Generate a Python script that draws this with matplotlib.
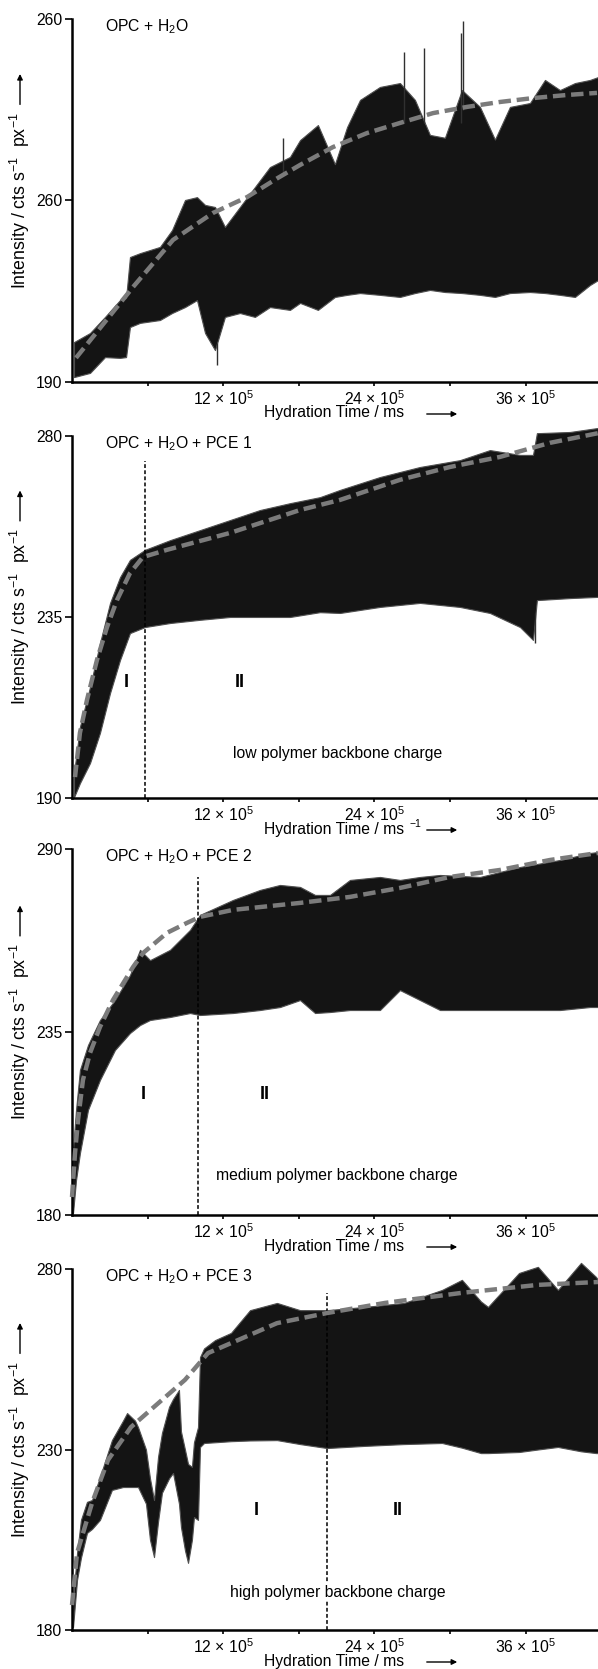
import numpy as np
import matplotlib
matplotlib.use('Agg')
import matplotlib.pyplot as plt
from matplotlib.patches import FancyArrowPatch

plt.rcParams['font.family'] = ['Liberation Sans', 'DejaVu Sans']
plt.rcParams['mathtext.fontset'] = 'custom'
plt.rcParams['mathtext.rm'] = 'Liberation Sans'
plt.rcParams['mathtext.it'] = 'Liberation Sans:italic'
plt.rcParams['mathtext.bf'] = 'Liberation Sans:bold'
plt.rcParams['font.size'] = 11.3

# hydration time in units of 1e5 ms, intensity in cts s^-1 px^-1
# panel 1: OPC + H2O  (upper / lower envelope of the noisy signal)
t1 = [0.16, 1.43, 2.62, 3.81, 4.29, 4.60, 5.40, 6.98, 7.94, 8.97, 9.92, 10.56, 11.35, 12.14,
      13.33, 14.52, 15.71, 17.30, 18.10, 19.52, 20.87, 21.83, 22.86, 24.44, 26.03, 27.22,
      28.41, 29.60, 30.95, 32.38, 33.57, 34.76, 36.35, 37.54, 38.73, 39.92, 41.11, 41.75]
up1 = [205.4, 208.9, 215.1, 221.6, 222.4, 238.2, 239.7, 242.1, 248.6, 260.2, 261.3, 258.3, 257.5, 249.8,
       257.5, 265.2, 272.9, 276.8, 283.3, 289.1, 274.0, 288.3, 298.8, 303.8, 305.3, 298.8,
       285.3, 284.2, 302.6, 296.1, 283.5, 296.1, 297.6, 306.5, 302.6, 305.3, 306.5, 307.6]
lo1 = [191.9, 193.5, 199.6, 199.3, 199.6, 211.2, 212.8, 213.9, 216.6, 218.9, 221.6, 208.9, 202.3, 215.1,
       216.6, 215.1, 218.9, 217.8, 220.5, 217.8, 222.8, 223.6, 224.3, 223.6, 222.8, 224.3,
       225.5, 224.7, 224.3, 223.6, 222.8, 224.3, 224.7, 224.3, 223.6, 222.8, 227.4, 229.3]
fit_t1 = [0.32, 4.84, 8.02, 11.19, 13.89, 16.27, 18.10, 20.71, 23.41, 26.03, 28.65, 31.35, 33.97, 36.59, 39.29, 41.67]
fit1 = [199.3, 226.6, 244.8, 255.2, 261.3, 268.5, 273.7, 280.6, 286.0, 289.9, 293.7, 296.1, 298.0, 299.5, 300.7, 301.5]
spk_t1 = [16.75, 26.35, 27.94, 30.87, 31.03, 11.51]
spk_lo1 = [270, 290, 290, 290, 295, 196.6]
spk_hi1 = [284.1, 317.3, 318.8, 324.6, 329.2, 205]

# panel 2: OPC + H2O + PCE 1
t2 = [0.16, 0.63, 1.43, 2.22, 3.02, 3.81, 4.60, 5.79, 7.78, 10.16, 12.54, 14.92, 17.30, 19.68,
      21.27, 24.44, 27.62, 30.79, 33.17, 35.56, 36.59, 36.90, 39.52, 41.75]
up2 = [196.2, 207.7, 217.6, 228.5, 238.5, 244.9, 249.2, 251.7, 254.1, 256.6, 259.1, 261.6, 263.3, 264.8,
       266.6, 269.8, 272.3, 274.0, 276.5, 275.3, 275.3, 280.7, 281.0, 282.0]
lo2 = [190.2, 193.7, 198.7, 206.2, 216.1, 224.3, 231.0, 232.5, 233.5, 234.3, 235.0, 235.0, 235.0, 236.2,
       236.0, 237.5, 238.5, 237.5, 236.0, 232.5, 229.3, 239.2, 239.7, 240.0]
fit_t2 = [0.24, 0.63, 1.19, 1.98, 2.78, 3.57, 4.60, 5.63, 7.54, 12.54, 18.10, 21.27, 26.03, 30.0, 33.97, 37.94, 41.75]
fit2 = [195.2, 206.2, 214.4, 224.3, 232.5, 239.2, 245.9, 249.9, 251.7, 255.9, 261.6, 264.1, 269.1, 272.3, 274.8, 278.3, 280.7]
spk_t2 = [36.75]
spk_lo2 = [236]
spk_hi2 = [228.5]
line_t2 = 5.79

# panel 3: OPC + H2O + PCE 2
t3 = [0.08, 0.32, 0.63, 1.27, 2.22, 3.41, 4.60, 5.40, 6.19, 7.78, 9.37, 10.16, 12.78, 14.92,
      16.51, 18.10, 19.29, 20.48, 22.06, 24.44, 26.03, 27.62, 29.21, 32.38, 35.56, 38.73, 41.11, 41.75]
up3 = [199.5, 211.6, 223.6, 231.1, 238.6, 244.6, 252.1, 259.7, 256.6, 259.7, 265.7, 270.2, 274.7, 277.7,
       279.2, 278.6, 276.2, 276.2, 280.7, 281.6, 280.7, 281.6, 282.2, 281.6, 284.6, 286.7, 288.8, 289.1]
lo3 = [180.6, 190.5, 198.6, 211.6, 220.6, 229.6, 234.7, 237.1, 238.6, 239.5, 240.7, 240.1, 240.7, 241.6,
       242.5, 244.6, 240.7, 241.0, 241.6, 241.6, 247.6, 244.6, 241.6, 241.6, 241.6, 241.6, 242.5, 242.5]
fit_t3 = [0.0, 0.24, 0.48, 0.87, 1.43, 2.22, 3.25, 4.84, 5.63, 7.54, 9.13, 10.16, 12.78, 18.10,
          22.06, 26.03, 30.0, 33.97, 37.94, 41.75]
fit3 = [185.4, 198.6, 208.6, 220.6, 228.7, 236.5, 244.6, 254.5, 258.7, 264.8, 267.8, 269.6, 271.7, 273.8,
        275.6, 278.3, 281.6, 283.7, 286.7, 288.8]
line_t3 = 10.0

# panel 4: OPC + H2O + PCE 3
t4 = [0.08, 0.40, 0.71, 1.19, 1.59, 2.22, 3.17, 4.05, 4.37, 5.0, 5.24, 5.87, 6.19, 6.51, 6.83,
      7.14, 7.70, 8.02, 8.49, 8.65, 8.97, 9.21, 9.52, 9.68, 10.0, 10.16, 10.48, 11.35, 12.62,
      14.13, 16.27, 18.10, 20.24, 23.25, 26.35, 29.37, 30.95, 32.46, 33.02, 35.48, 36.98,
      38.57, 40.40, 41.59, 41.75]
up4 = [188.3, 201.3, 210.5, 215.5, 216.0, 222.4, 232.6, 238.0, 240.1, 238.0, 236.2, 230.0, 222.0, 216.0, 228.0,
       234.6, 241.8, 244.0, 246.5, 235.0, 229.9, 226.0, 225.2, 232.0, 236.2, 255.6, 258.0, 260.3, 262.3,
       268.6, 270.6, 268.6, 268.6, 269.5, 270.6, 274.2, 277.0, 271.0, 269.5, 278.9, 280.6,
       274.2, 281.7, 277.8, 277.0]
lo4 = [180.8, 193.9, 200.0, 206.9, 208.0, 210.5, 218.8, 219.6, 219.6, 219.6, 219.6, 215.0, 205.0, 200.2, 210.0,
       218.0, 222.0, 223.5, 215.0, 208.5, 202.0, 198.6, 205.0, 211.3, 210.5, 230.7, 231.8, 232.0, 232.3,
       232.5, 232.6, 231.5, 230.4, 231.0, 231.5, 231.8, 230.5, 229.0, 229.0, 229.3, 230.0,
       230.7, 229.5, 229.0, 229.0]
fit_t4 = [0.0, 0.40, 1.59, 2.86, 4.68, 6.51, 8.97, 10.79, 13.17, 16.27, 20.24, 24.84, 30.95, 36.98, 41.75]
fit4 = [186.9, 201.3, 215.2, 227.1, 236.2, 241.8, 249.3, 256.7, 260.3, 265.0, 267.8, 270.6, 273.4, 275.6, 276.4]
line_t4 = 20.24

titles = ['OPC + H$_2$O', 'OPC + H$_2$O + PCE 1', 'OPC + H$_2$O + PCE 2', 'OPC + H$_2$O + PCE 3']
yticks = [[190, 260, 330], [190, 235, 280], [180, 235, 290], [180, 230, 280]]
yticklabels = [['190', '260', '260'], ['190', '235', '280'], ['180', '235', '290'], ['180', '230', '280']]
xticks = [6, 12, 18, 24, 30, 36]
xticklabels = ['', '12 × 10$^5$', '', '24 × 10$^5$', '', '36 × 10$^5$']
xlabel = 'Hydration Time / ms'
xlabel_sup = [None, '\u22121', None, None]
notes = [None, 'low polymer backbone charge', 'medium polymer backbone charge', 'high polymer backbone charge']

W, H = 598, 1669
fig = plt.figure(figsize=(W / 100, H / 100), dpi=100)

# pixel layout of each panel: (top, bottom)
boxes = [(19, 382), (436, 798), (849, 1215), (1269, 1630)]
left, right = 72, 598

bands = [(t1, lo1, up1), (t2, lo2, up2), (t3, lo3, up3), (t4, lo4, up4)]
fits = [(fit_t1, fit1), (fit_t2, fit2), (fit_t3, fit3), (fit_t4, fit4)]
spikes = [(spk_t1, spk_lo1, spk_hi1), (spk_t2, spk_lo2, spk_hi2), None, None]
vlines = [None, (line_t2, 273.8), (line_t3, 281.6), (line_t4, 273.4)]
roman = [None,
         ((4.29, 218.8), (13.33, 218.8), (21.1, 201.0)),
         ((5.63, 216.1), (15.32, 216.1), (21.0, 192.0)),
         ((14.6, 213.2), (25.87, 213.2), (21.1, 190.5))]

gray = '#7b7b7b'
ylab_texts = []
for i in range(4):
    top, bot = boxes[i]
    ax = fig.add_axes([left / W, 1 - bot / H, (right - left) / W, (bot - top) / H])
    ax.set_xlim(0, 41.75)
    ax.set_ylim(yticks[i][0], yticks[i][-1])

    tt, lo, up = bands[i]
    ax.fill_between(tt, lo, up, color='#141414', edgecolor='#505050', lw=0.8, clip_on=False, zorder=2)
    if spikes[i] is not None:
        ax.vlines(spikes[i][0], spikes[i][1], spikes[i][2], color='#303030', lw=1.0, clip_on=False, zorder=2)
    ft, fv = fits[i]
    ax.plot(ft, fv, color=gray, lw=3.2, dashes=(2.8, 1.3), clip_on=False, zorder=4)

    if vlines[i] is not None:
        xv, ytop = vlines[i]
        ax.plot([xv, xv], [yticks[i][0], ytop], color='black', lw=1.1, ls=(0, (2.5, 1.5)), zorder=3)
        (xa, ya), (xb, yb), (xn, yn) = roman[i]
        ax.text(xa, ya, 'I', ha='center', va='center', fontsize=13, fontweight='bold', zorder=5)
        ax.text(xb, yb, 'II', ha='center', va='center', fontsize=13, fontweight='bold', zorder=5)
        ax.text(xn, yn, notes[i], ha='center', va='center', zorder=5,
                bbox=dict(facecolor='white', edgecolor='none', pad=1.0))

    for s in ['top', 'right']:
        ax.spines[s].set_visible(False)
    for s in ['left', 'bottom']:
        ax.spines[s].set_linewidth(1.8)
    ax.set_yticks(yticks[i])
    ax.set_yticklabels(yticklabels[i])
    ax.set_xticks(xticks)
    ax.set_xticklabels(xticklabels)
    ax.tick_params(axis='y', direction='out', length=5, width=1.2, pad=2)
    ax.tick_params(axis='x', direction='out', length=3, width=1.2, pad=2)
    ax.patch.set_alpha(0)

    # panel title
    fig.text(105 / W, 1 - (top + 8) / H, titles[i], ha='left', va='center')
    # y label (arrow placed above it after measuring)
    yc = (top + bot) / 2
    ylab_texts.append(fig.text(20 / W, 1 - yc / H, 'Intensity / cts s$^{-1}$  px$^{-1}$',
                               rotation=90, ha='center', va='center', fontsize=12.8))
    # x label with arrow right of it
    fig.text(264 / W, 1 - (bot + 31) / H, xlabel, ha='left', va='center')
    if xlabel_sup[i] is not None:
        fig.text(409 / W, 1 - (bot + 26) / H, xlabel_sup[i], ha='left', va='center', fontsize=7.5)
    fig.add_artist(FancyArrowPatch((424 / W, 1 - (bot + 32) / H), (460 / W, 1 - (bot + 32) / H),
                                   transform=fig.transFigure, arrowstyle='-|>', mutation_scale=8,
                                   lw=1.0, color='black'))

fig.canvas.draw()
renderer = fig.canvas.get_renderer()
for txt in ylab_texts:
    bb = txt.get_window_extent(renderer)
    y0 = bb.y1 + 5
    fig.add_artist(FancyArrowPatch((20 / W, y0 / H), (20 / W, (y0 + 36) / H),
                                   transform=fig.transFigure, arrowstyle='-|>', mutation_scale=8,
                                   lw=1.0, color='black'))

fig.savefig('out.png', dpi=100)
